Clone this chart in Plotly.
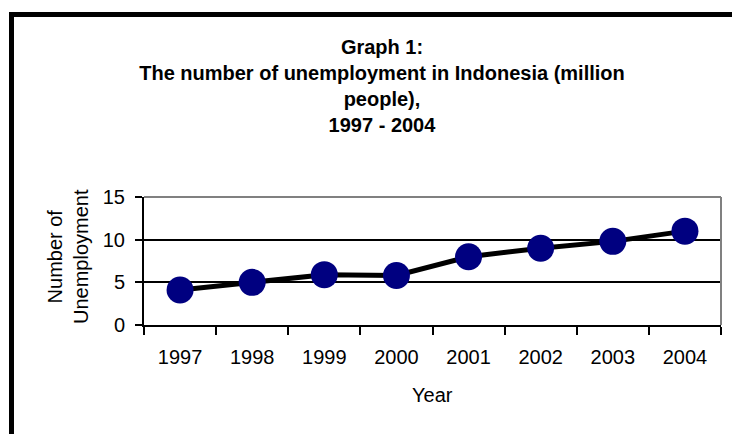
import plotly.graph_objects as go

# Unemployment in Indonesia, million people
years = ["1997", "1998", "1999", "2000", "2001", "2002", "2003", "2004"]
unemployed = [4.1, 5.0, 5.9, 5.8, 8.0, 9.0, 9.8, 11.0]
y_ticks = [0, 5, 10, 15]

title_lines = [
    "Graph 1:",
    "The number of unemployment in Indonesia (million",
    "people),",
    "1997 - 2004",
]

FONT = "Arial, 'Liberation Sans', sans-serif"

# plot-area geometry in pixels (used to place decorations)
W, H = 732, 434
L, R, T, B = 144, 11, 197, 109
PW, PH = W - L - R, H - T - B


def px_x(p):
    return (p - L) / PW


def px_y(p):
    return (H - B - p) / PH


fig = go.Figure()
fig.add_trace(go.Scatter(
    x=years, y=unemployed, mode="lines+markers",
    line=dict(color="black", width=5),
    marker=dict(color="#000080", size=27, line=dict(width=0)),
    showlegend=False, cliponaxis=False,
))

fig.update_layout(
    width=W, height=H,
    margin=dict(l=L, r=R, t=T, b=B),
    paper_bgcolor="white", plot_bgcolor="white",
    font=dict(family=FONT, color="black", size=20),
    title=dict(
        text="<b>" + "<br>".join(title_lines) + "</b>",
        x=382 / W, xref="container", xanchor="center",
        y=1 - 54 / H, yref="container", yanchor="middle",
        font=dict(family=FONT, size=20, color="black"),
    ),
    xaxis=dict(
        type="category", range=[-0.5, 7.5],
        showline=True, linecolor="black", linewidth=2,
        ticks="outside", tickson="boundaries", ticklen=8,
        tickcolor="black", tickwidth=2,
        showgrid=False, zeroline=False,
        tickfont=dict(size=20), ticklabelstandoff=13,
    ),
    yaxis=dict(
        range=[0, 15], tickvals=y_ticks,
        showline=True, linecolor="black", linewidth=2,
        ticks="outside", ticklen=7, tickcolor="black", tickwidth=2,
        showgrid=True, gridcolor="black", gridwidth=1.5,
        zeroline=False,
        tickfont=dict(size=20), ticklabelstandoff=6,
    ),
    annotations=[
        dict(text="Number of<br>Unemployment", textangle=-90,
             xref="paper", yref="paper", x=px_x(68), y=px_y(257),
             xanchor="center", yanchor="middle", showarrow=False,
             font=dict(size=20)),
        dict(text="Year", xref="paper", yref="paper",
             x=0.5, y=px_y(395), xanchor="center", yanchor="middle",
             showarrow=False, font=dict(size=20)),
    ],
    shapes=[
        # grey plot-area border on top and right
        dict(type="line", xref="paper", yref="paper", x0=0, x1=1, y0=1, y1=1,
             line=dict(color="#808080", width=2), layer="above"),
        dict(type="line", xref="paper", yref="paper", x0=1, x1=1, y0=0, y1=1,
             line=dict(color="#808080", width=2), layer="above"),
        # heavy outer frame (top and left edges)
        dict(type="line", xref="paper", yref="paper",
             x0=px_x(9), x1=px_x(760), y0=px_y(14.5), y1=px_y(14.5),
             line=dict(color="black", width=5)),
        dict(type="line", xref="paper", yref="paper",
             x0=px_x(11.5), x1=px_x(11.5), y0=px_y(12), y1=px_y(460),
             line=dict(color="black", width=5)),
    ],
)

fig.write_html("out.html")
